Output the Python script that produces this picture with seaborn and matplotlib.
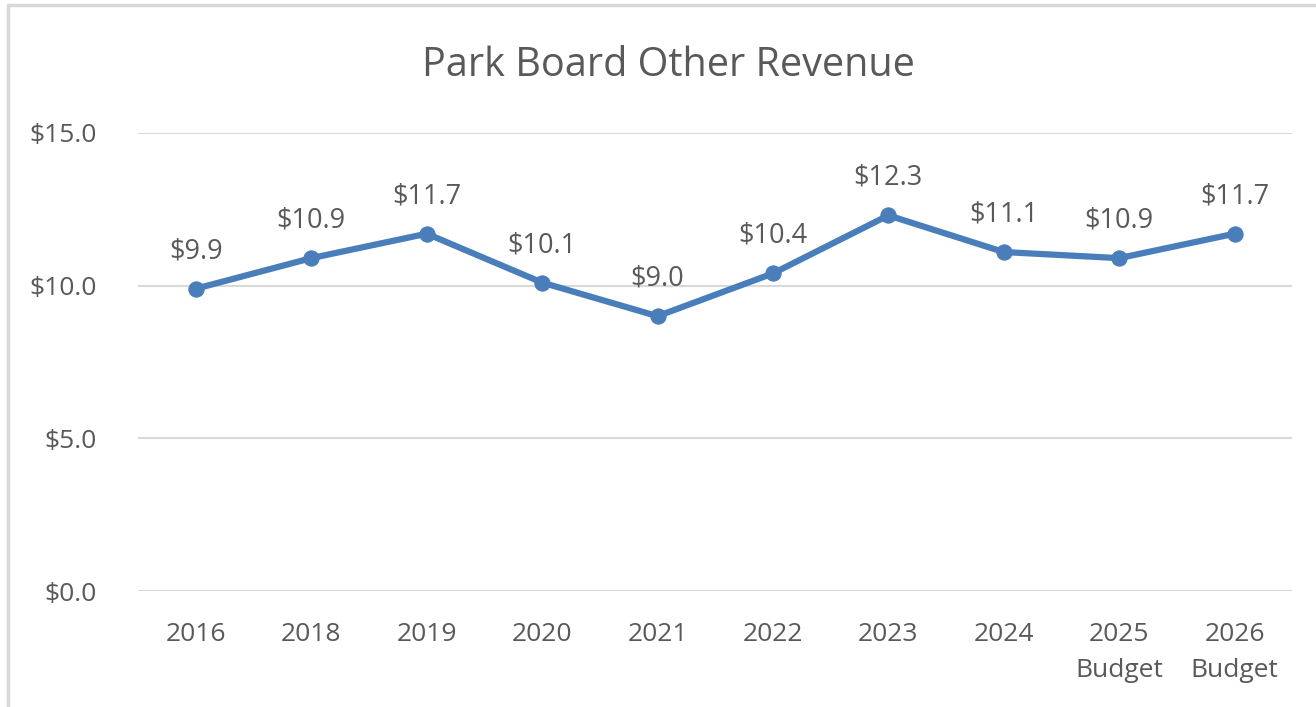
import numpy as np
import pandas as pd
import matplotlib
matplotlib.use("Agg")
import matplotlib.pyplot as plt
import seaborn as sns
from matplotlib.lines import Line2D

# =========================
# DATA
# =========================

years = ["2016", "2018", "2019", "2020", "2021", "2022", "2023", "2024",
         "2025\nBudget", "2026\nBudget"]
revenue = [9.9, 10.9, 11.7, 10.1, 9.0, 10.4, 12.3, 11.1, 10.9, 11.7]
y_ticks = [0, 5, 10, 15]

df = pd.DataFrame({"year": years, "revenue": revenue})

# =========================
# STYLE
# =========================

sns.set_style("white")
plt.rcParams['font.family'] = ['Open Sans', 'DejaVu Sans']

line_color = "#4A7EBB"
text_color = "#595959"
grid_color = "#D9D9D9"

fig = plt.figure(figsize=(13.16, 7.07), dpi=100)
ax = fig.add_axes([0.105, 0.164, 0.877, 0.648])

sns.lineplot(
    x="year",
    y="revenue",
    data=df,
    sort=False,
    color=line_color,
    linewidth=4.5,
    marker="o",
    markersize=11,
    markeredgecolor=line_color,
    ax=ax
)

# data labels
for i, v in enumerate(revenue):
    ax.annotate(
        f"${v:.1f}",
        (i, v),
        xytext=(0, 27),
        textcoords="offset points",
        ha="center",
        va="center",
        fontsize=19.5,
        color=text_color
    )

ax.set_xlim(-0.5, len(years) - 0.5)
ax.set_ylim(0, 15)
ax.set_yticks(y_ticks)
ax.set_yticklabels([f"${t:.1f}" for t in y_ticks])
ax.set_xticks(range(len(years)))
ax.set_xticklabels(years, linespacing=1.62)

ax.tick_params(axis="both", length=0, labelsize=19, labelcolor=text_color)
ax.tick_params(axis="y", pad=30)
ax.tick_params(axis="x", pad=22)

ax.yaxis.grid(True, color=grid_color, linewidth=1.5)
ax.set_axisbelow(True)
for s in ax.spines.values():
    s.set_visible(False)

ax.set_xlabel("")
ax.set_ylabel("")

fig.text(0.508, 0.907, "Park Board Other Revenue", ha="center", va="center",
         fontsize=28.5, color=text_color)

# chart border (left and top edges visible)
fig.add_artist(Line2D([8 / 1316, 8 / 1316], [0, 1 - 5 / 707],
                      color=grid_color, linewidth=2.5, transform=fig.transFigure))
fig.add_artist(Line2D([8 / 1316, 1], [1 - 5 / 707, 1 - 5 / 707],
                      color=grid_color, linewidth=2.5, transform=fig.transFigure))

plt.savefig("out.png", dpi=100, facecolor="white")
